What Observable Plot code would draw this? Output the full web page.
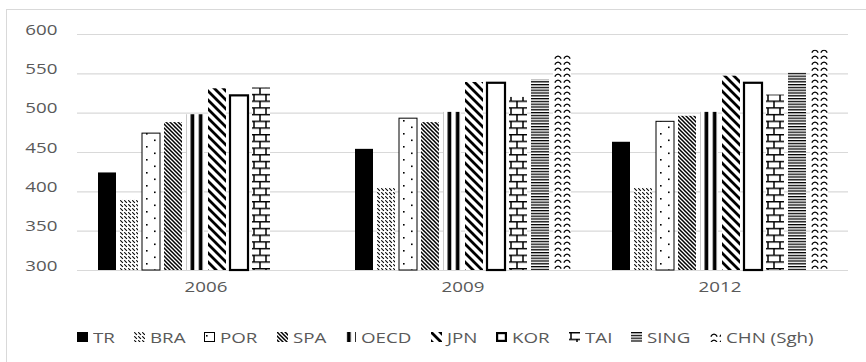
<!DOCTYPE html>
<html>
<head>
<meta charset="utf-8">
<script src="https://cdn.jsdelivr.net/npm/d3@7"></script>
<script src="https://cdn.jsdelivr.net/npm/@observablehq/plot@0.6"></script>
<style>
  html, body { margin: 0; padding: 0; background: #fff; }
  #wrap { position: relative; width: 866px; height: 362px; overflow: hidden; font-family: "Open Sans", sans-serif; }
  #border { position: absolute; left: 6px; top: 9px; right: -10px; bottom: -10px; border-left: 1.5px solid #d9d9d9; border-top: 1.5px solid #d9d9d9; }
  #chart { position: absolute; left: 0; top: 0; }
  #legend { position: absolute; left: 77px; top: 327px; display: flex; align-items: center; font-size: 15px; color: #595959; white-space: nowrap; }
  .item { display: flex; align-items: center; margin-right: 19px; }
  .item svg { margin-right: 5px; overflow: visible; }
  .lab { display: inline-block; }
  .lab span { display: inline-block; transform: scaleX(1.25); transform-origin: 0 50%; }
  #defs { position: absolute; width: 0; height: 0; }
</style>
</head>
<body>
<div id="wrap">
<svg id="defs" width="0" height="0" aria-hidden="true">
  <defs>
    <pattern id="p-bra" patternUnits="userSpaceOnUse" width="4" height="4">
      <rect width="4" height="4" fill="#fff"/>
      <path d="M0.3,0.3L2.9,2.9" stroke="#000" stroke-width="1.1"/>
    </pattern>
    <pattern id="p-por" patternUnits="userSpaceOnUse" width="16" height="13">
      <rect width="16" height="13" fill="#fff"/>
      <rect x="2" y="3" width="1.6" height="1.6" fill="#000"/>
      <rect x="10" y="9.5" width="1.6" height="1.6" fill="#000"/>
    </pattern>
    <pattern id="p-spa" patternUnits="userSpaceOnUse" width="4" height="4">
      <rect width="4" height="4" fill="#fff"/>
      <path d="M-1,-1L5,5M-1,3L1,5M3,-1L5,1" stroke="#000" stroke-width="1.5"/>
    </pattern>
    <pattern id="p-oecd" patternUnits="userSpaceOnUse" width="8.2" height="10">
      <rect width="8.2" height="10" fill="#fff"/>
      <rect x="2" width="3.7" height="10" fill="#000"/>
    </pattern>
    <pattern id="p-jpn" patternUnits="userSpaceOnUse" width="9" height="9">
      <rect width="9" height="9" fill="#fff"/>
      <path d="M-2,-2L11,11M-2,7L2,11M7,-2L11,2" stroke="#000" stroke-width="2.8"/>
    </pattern>
    <pattern id="p-tai" patternUnits="userSpaceOnUse" width="12" height="13.4">
      <rect width="12" height="13.4" fill="#fff"/>
      <path d="M0,0.75H12M0,7.45H12M2,0V6.7M8,6.7V13.4" stroke="#000" stroke-width="1.5" fill="none"/>
    </pattern>
    <pattern id="p-sing" patternUnits="userSpaceOnUse" width="4" height="2.8">
      <rect width="4" height="2.8" fill="#fff"/>
      <rect width="4" height="1.3" fill="#000"/>
    </pattern>
    <pattern id="p-chn" patternUnits="userSpaceOnUse" width="9" height="6">
      <rect width="9" height="6" fill="#fff"/>
      <path d="M0.8,4.6C2.5,1.2 5.5,1.2 7.2,4.6" stroke="#000" stroke-width="1.3" fill="none"/>
    </pattern>
  </defs>
</svg>
<div id="border"></div>
<div id="chart"></div>
<div id="legend"></div>
</div>
<script>
// PISA science scores by survey year
const years = ["2006", "2009", "2012"];
const countries = ["TR", "BRA", "POR", "SPA", "OECD", "JPN", "KOR", "TAI", "SING", "CHN (Sgh)"];
const TR   = [424, 454, 463];
const BRA  = [390, 405, 405];
const POR  = [474, 493, 489];
const SPA  = [488, 488, 496];
const OECD = [498, 501, 501];
const JPN  = [531, 539, 547];
const KOR  = [522, 538, 538];
const TAI  = [532, 520, 523];
const SING = [null, 542, 551];
const CHN  = [null, 575, 580];
const yTicks = [300, 350, 400, 450, 500, 550, 600];

const series = [TR, BRA, POR, SPA, OECD, JPN, KOR, TAI, SING, CHN];
const rows = years
  .flatMap((year, i) => countries.map((country, k) => ({year, country, score: series[k][i]})))
  .filter((d) => d.score != null);

const baseline = yTicks[0];

// hatch fills for each series (patterns are defined in #defs)
const look = {
  "TR": {fill: "#000"},
  "BRA": {fill: "url(#p-bra)"},
  "POR": {fill: "url(#p-por)", stroke: "#000", strokeWidth: 1},
  "SPA": {fill: "url(#p-spa)"},
  "OECD": {fill: "url(#p-oecd)"},
  "JPN": {fill: "url(#p-jpn)"},
  "KOR": {fill: "#fff", stroke: "#000", strokeWidth: 2.2},
  "TAI": {fill: "url(#p-tai)"},
  "SING": {fill: "url(#p-sing)"},
  "CHN (Sgh)": {fill: "url(#p-chn)"}
};

// facets abut so the gridlines run unbroken; group spacing comes from the x padding
const chart = Plot.plot({
  width: 866,
  height: 300,
  marginLeft: 77,
  marginRight: 18,
  marginTop: 34,
  marginBottom: 30,
  style: {fontFamily: '"Open Sans", sans-serif', fontSize: "15px", color: "#595959", background: "transparent", overflow: "visible"},
  fx: {domain: years, paddingInner: 0, paddingOuter: 0, label: null, tickSize: 0, tickPadding: 21},
  x: {domain: countries, paddingInner: 0.2, paddingOuter: 0.867, axis: null},
  y: {domain: [yTicks[0], yTicks[yTicks.length - 1]], ticks: yTicks, tickSize: 0, tickPadding: 20, label: null},
  marks: [
    Plot.ruleY(yTicks, {stroke: "#d9d9d9", strokeWidth: 1.2}),
    ...countries.map((c) =>
      Plot.barY(rows.filter((d) => d.country === c), {
        fx: "year",
        x: "country",
        y1: () => baseline,
        y2: "score",
        insetLeft: 0,
        insetRight: 0,
        ...look[c]
      })
    )
  ]
});
document.getElementById("chart").append(chart);

// widen the axis labels horizontally to the wide lettering of the chart
const stretch = 1.25;
d3.select(chart).selectAll("g[aria-label$='tick label'] text").each(function () {
  const t = d3.select(this);
  const x = +t.attr("x") || 0;
  const y = +t.attr("y") || 0;
  t.attr("x", null).attr("y", null);
  const base = t.attr("transform") || "";
  t.attr("transform", `${base} translate(${x},${y}) scale(${stretch},1)`);
});

// legend
const legend = d3.select("#legend");
for (const c of countries) {
  const item = legend.append("div").attr("class", "item");
  const sw = item.append("svg").attr("width", 11).attr("height", 10);
  const s = look[c];
  const inset = s.strokeWidth ? s.strokeWidth / 2 : 0;
  sw.append("rect")
    .attr("x", inset).attr("y", inset)
    .attr("width", 11 - 2 * inset).attr("height", 10 - 2 * inset)
    .attr("fill", s.fill)
    .attr("stroke", s.stroke || "none")
    .attr("stroke-width", s.strokeWidth || 0);
  const lab = item.append("span").attr("class", "lab");
  const inner = lab.append("span").text(c);
  lab.style("width", inner.node().getBoundingClientRect().width + "px");
}
</script>
</body>
</html>
